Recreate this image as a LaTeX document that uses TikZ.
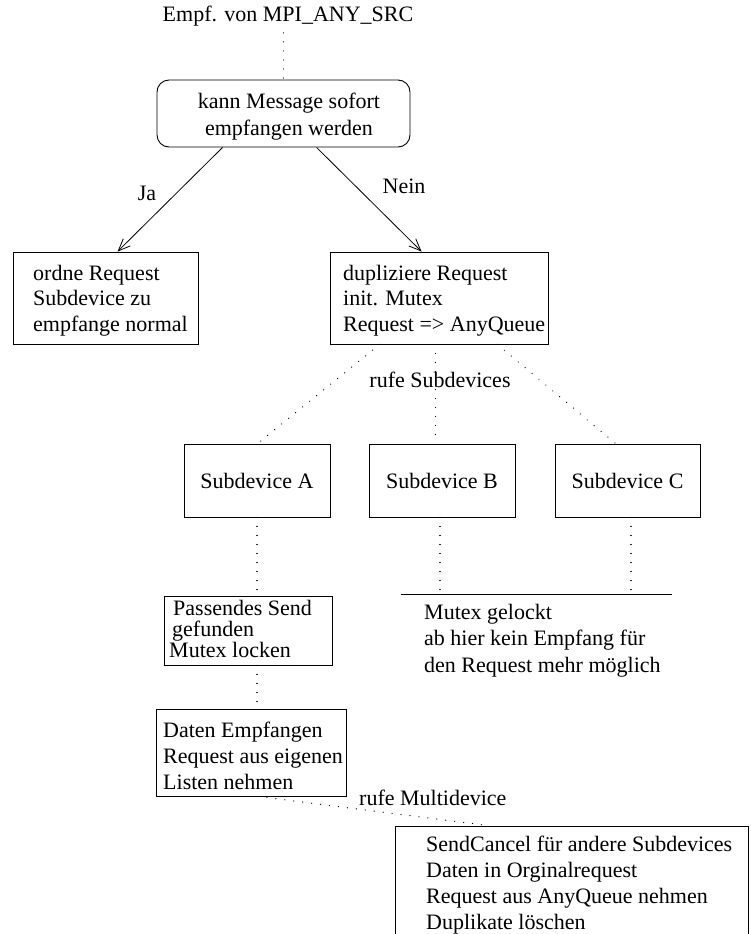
\documentclass[tikz,border=0pt]{standalone}
\usepackage{fontspec}
\setmainfont{Liberation Serif}
\usetikzlibrary{arrows.meta,calc}
\begin{document}
\begin{tikzpicture}[x=1pt,y=-1pt,
  every node/.style={font=\fontsize{22}{25.5}\selectfont, inner sep=0pt},
  frame/.style={draw, line width=0.9pt},
  txt/.style={anchor=base west, align=left},
  ctxt/.style={anchor=base, align=center},
  flow/.style={line width=0.8pt, -{Straight Barb[length=12pt,width=10pt,line width=0.8pt]}},
  link/.style={line width=1.3pt, dash pattern=on 0.01pt off 9pt, line cap=round},
]
\useasboundingbox (0,0) rectangle (750,934);
\clip (0,0) rectangle (750,934);

% entry point (multi-line text nodes are placed by the baseline of their last line)
\node[ctxt] (title) at (288,22) {Empf. von MPI\_ANY\_SRC};

% decision
\node[frame, rounded corners=12pt, minimum width=253pt, minimum height=67pt] (ask) at (283.5,113.5) {};
\node[ctxt, font=\fontsize{22}{27}\selectfont] (askt) at (289,135) {kann Message sofort\\empfangen werden};

% the two branches
\node[frame, minimum width=185pt, minimum height=92pt] (yes) at (105.5,298) {};
\node[txt] (yest) at (33,331) {ordne Request\\Subdevice zu\\empfange normal};
\node[frame, minimum width=218pt, minimum height=92pt] (no) at (439,298) {};
\node[txt] (not) at (343,331) {dupliziere Request\\init. Mutex\\Request => AnyQueue};

\node[ctxt] (ja) at (147,200) {Ja};
\node[ctxt] (nein) at (404,193) {Nein};

% subdevices
\node[frame, minimum width=146pt, minimum height=73pt] (sdA) at (257,480.5) {Subdevice A};
\node[frame, minimum width=146pt, minimum height=73pt] (sdB) at (442,480.5) {Subdevice B};
\node[frame, minimum width=145pt, minimum height=73pt] (sdC) at (627.5,480.5) {Subdevice C};
\node[ctxt] (call) at (440,387) {rufe Subdevices};

% lock barrier
\coordinate (lockL) at (401,594);
\coordinate (lockR) at (672,594);
\node[txt, font=\fontsize{22}{26.5}\selectfont] (lockt) at (424,672) {Mutex gelockt\\ab hier kein Empfang für\\den Request mehr möglich};

% receiving subdevice
\node[frame, minimum width=168pt, minimum height=69pt] (match) at (248,630.5) {};
\node[txt, font=\fontsize{22}{21}\selectfont] (matcht) at (169,657) {\hspace*{4pt}Passendes Send\\\hspace*{3pt}gefunden\\Mutex locken};
\node[frame, minimum width=190pt, minimum height=87pt] (data) at (251,752.5) {};
\node[txt, font=\fontsize{22}{26}\selectfont] (datat) at (163,789) {Daten Empfangen\\Request aus eigenen\\Listen nehmen};
\node[txt] (multi) at (359,805) {rufe Multidevice};

% multidevice clean-up
\node[frame, minimum width=353pt, minimum height=134pt] (done) at (571.5,893) {};
\node[txt, font=\fontsize{22}{25.7}\selectfont] (donet) at (426,929) {SendCancel für andere Subdevices\\Daten in Orginalrequest\\Request aus AnyQueue nehmen\\Duplikate löschen};

% connectors
\draw[link] ($(ask.north |- title.south)+(0,6)$) -- (ask.north);
\draw[flow] ([xshift=66pt]ask.south west) -- ([xshift=105pt]yes.north west);
\draw[flow] ([xshift=160pt]ask.south west) -- ([xshift=92pt]no.north west);

\draw[link] ([xshift=50pt]no.south west) -- ([xshift=74pt]sdA.north west);
\draw[link] ([xshift=106pt]no.south west) -- ([xshift=67pt]sdB.north west);
\draw[link] ([xshift=168pt]no.south west) -- ([xshift=61pt]sdC.north west);

\draw[frame] (lockL) -- (lockR);
\draw[link] (sdA.south) -- (sdA.south |- match.north);
\draw[link] ([xshift=-2pt]sdB.south) -- ([xshift=-2pt]sdB.south |- lockL);
\draw[link] ([xshift=3.5pt]sdC.south) -- ([xshift=3.5pt]sdC.south |- lockL);

\draw[link] (sdA.south |- match.south) -- (sdA.south |- data.north);
\draw[link] ([xshift=1pt]sdA.south |- data.south) -- ([xshift=94pt]done.north west);
\end{tikzpicture}
\end{document}
